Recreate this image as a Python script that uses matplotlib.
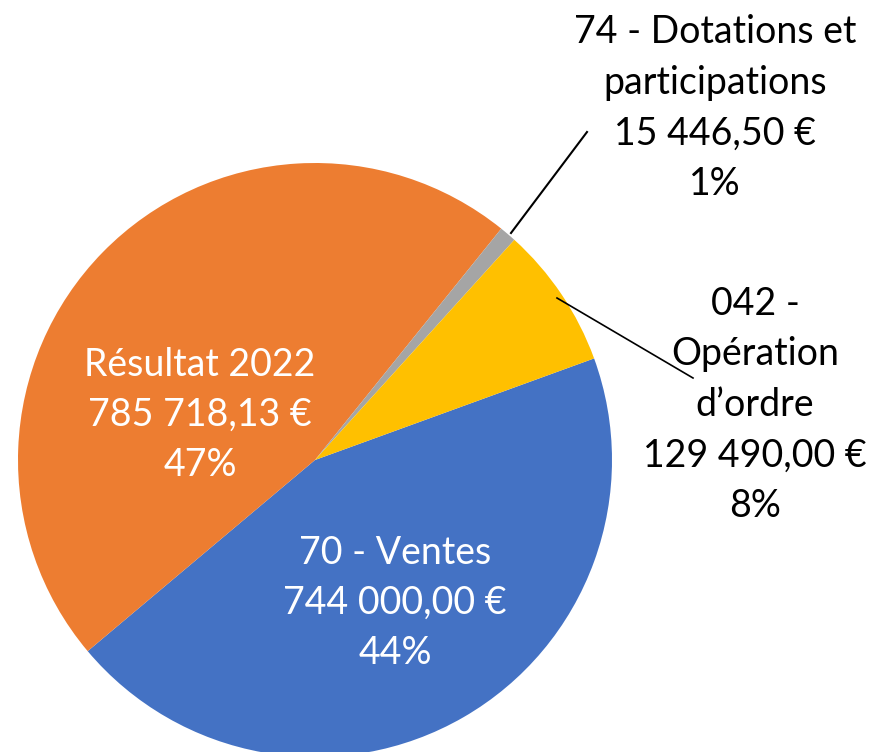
import matplotlib.pyplot as plt

labels = ["70 - Ventes", "Résultat 2022", "74 - Dotations et\nparticipations", "042 -\nOpération\nd’ordre"]
values = [744000.00, 785718.13, 15446.50, 129490.00]
value_text = ["744 000,00 €", "785 718,13 €", "15 446,50 €", "129 490,00 €"]
pct_text = ["44%", "47%", "1%", "8%"]
colors = ["#4472C4", "#ED7D31", "#A5A5A5", "#FFC000"]

plt.rcParams['font.family'] = ['Lato', 'DejaVu Sans']

fig = plt.figure(figsize=(8.76, 7.52), dpi=100)
ax = fig.add_axes([0, 0, 1, 1])

# pie in pixel-like coords (y up)
wedges, _ = ax.pie(values, colors=colors, startangle=20, counterclock=False,
                   center=(315, 292), radius=297, frame=True)
ax.set_xlim(0, 876)
ax.set_ylim(0, 752)
ax.set_aspect('equal')
ax.axis('off')

fs = 27
ls = 1.5
txt = [f"{labels[i]}\n{value_text[i]}\n{pct_text[i]}" for i in range(4)]
ax.text(395, 752 - 603, txt[0], color="white", fontsize=fs, ha="center", va="center", linespacing=ls)
ax.text(200, 752 - 415, txt[1], color="white", fontsize=fs, ha="center", va="center", linespacing=ls)
ax.text(715, 752 - 108, txt[2], color="black", fontsize=fs, ha="center", va="center", linespacing=ls)
ax.text(755, 752 - 405, txt[3], color="black", fontsize=fs, ha="center", va="center", linespacing=ls)

# leader lines
ax.plot([511, 587], [752 - 233, 752 - 132], color="black", lw=1.5)
ax.plot([557, 693], [752 - 298, 752 - 378], color="black", lw=1.2)

fig.savefig("out.png", dpi=100)
